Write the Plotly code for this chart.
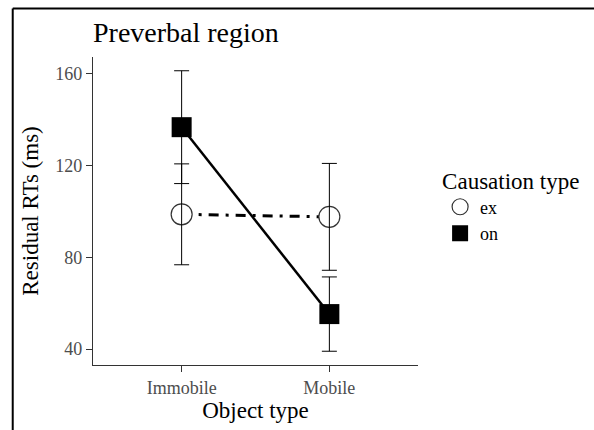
import plotly.graph_objects as go

categories = ["Immobile", "Mobile"]
ex_mean = [98.8, 97.7]
ex_err = [22.0, 23.3]
on_mean = [136.8, 55.3]
on_err = [24.6, 16.2]
y_ticks = [40, 80, 120, 160]

FONT = "Liberation Serif"
fig = go.Figure()

# lines + points
fig.add_trace(go.Scatter(
    x=categories, y=ex_mean, mode="lines+markers", name="ex", showlegend=False,
    line=dict(color="black", width=3, dash="10px,7px,3px,7px"),
    marker=dict(symbol="circle", size=21, color="white", line=dict(color="#333333", width=1.2)),
))
fig.add_trace(go.Scatter(
    x=categories, y=on_mean, mode="lines+markers", name="on", showlegend=False,
    line=dict(color="black", width=2.5),
    marker=dict(symbol="square", size=20, color="black", line=dict(color="black", width=0)),
))
# error bars on top
for m, e in ((ex_mean, ex_err), (on_mean, on_err)):
    fig.add_trace(go.Scatter(
        x=categories, y=m, mode="markers", showlegend=False, hoverinfo="skip",
        marker=dict(size=1, color="rgba(0,0,0,0)"),
        error_y=dict(type="data", array=e, visible=True, color="black", thickness=1, width=7.5),
    ))
# legend entries (symbol only)
fig.add_trace(go.Scatter(x=[None], y=[None], mode="markers", name="ex",
                         marker=dict(symbol="circle", size=20, color="white",
                                     line=dict(color="#333333", width=1.2))))
fig.add_trace(go.Scatter(x=[None], y=[None], mode="markers", name="on",
                         marker=dict(symbol="square", size=20, color="black")))

# figure frame (left and top edges)
fig.add_shape(type="line", xref="paper", yref="paper", x0=-0.247, x1=-0.247, y0=1.1576, y1=-0.3,
              line=dict(color="black", width=2))
fig.add_shape(type="line", xref="paper", yref="paper", x0=-0.247, x1=1.6, y0=1.1576, y1=1.1576,
              line=dict(color="black", width=2))

fig.update_layout(
    width=594, height=430,
    margin=dict(l=93, r=169, t=57, b=62),
    paper_bgcolor="white", plot_bgcolor="white",
    font=dict(family=FONT, color="black"),
    title=dict(text="Preverbal region", font=dict(size=28, color="black", family=FONT),
               x=93/594, xanchor="left", xref="container", y=1-32/430, yanchor="middle"),
    xaxis=dict(
        type="category", range=[-0.6, 1.6], showline=True, linecolor="#333333", linewidth=1.2,
        ticks="outside", ticklen=6, tickcolor="#333333", tickwidth=1.2,
        tickfont=dict(size=18, color="#4D4D4D", family=FONT), showgrid=False, zeroline=False,
        title=dict(text="Object type", font=dict(size=23, color="black", family=FONT), standoff=4),
    ),
    yaxis=dict(
        range=[33.1, 167.4], tickvals=y_ticks, showline=True, linecolor="#333333", linewidth=1.2,
        ticks="outside", ticklen=6, tickcolor="#333333", tickwidth=1.2,
        tickfont=dict(size=18, color="#4D4D4D", family=FONT), showgrid=False, zeroline=False,
        title=dict(text="Residual RTs (ms)", font=dict(size=23, color="black", family=FONT), standoff=10),
    ),
    legend=dict(
        title=dict(text="Causation type", font=dict(size=23, color="black", family=FONT)),
        font=dict(size=18, color="black", family=FONT),
        x=1.068, xanchor="left", y=0.67, yanchor="top", bgcolor="rgba(0,0,0,0)",
        itemsizing="trace", tracegroupgap=0,
    ),
)

fig.write_html("out.html")
